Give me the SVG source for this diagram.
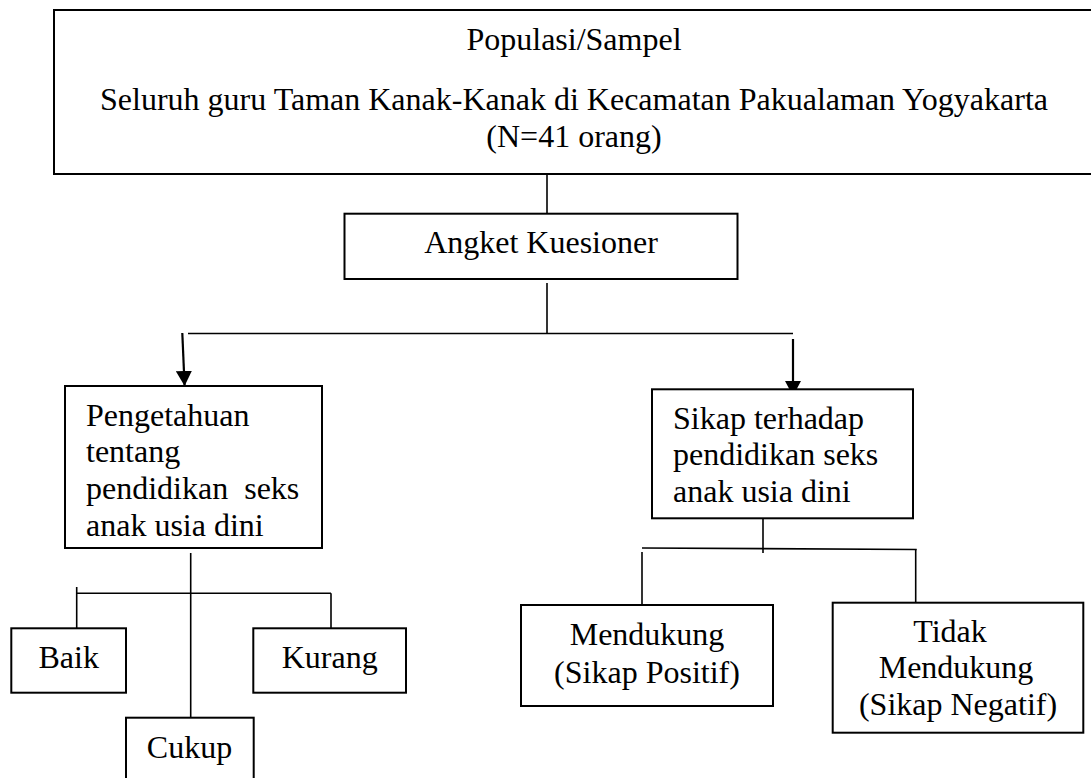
<svg xmlns="http://www.w3.org/2000/svg" width="1091" height="778" viewBox="0 0 1091 778">
<style>
.box{fill:#fff;stroke:#000;stroke-width:2}
.ln{fill:none;stroke:#000;stroke-width:1.6}
.ar{fill:none;stroke:#000;stroke-width:2.2}
.t{font-family:"Liberation Serif","Times New Roman",serif;font-size:32px;fill:#000}
.c{text-anchor:middle}
</style>
<defs>
<marker id="ah" markerUnits="userSpaceOnUse" markerWidth="16" markerHeight="16" viewBox="0 0 16 16" refX="15" refY="8" orient="auto">
<path d="M0,0 L15,8 L0,16 Z" fill="#000"/>
</marker>
</defs>
<rect width="1091" height="778" fill="#fff"/>
<g id="connectors">
<line class="ln" x1="547" y1="174" x2="547" y2="214"/>
<line class="ln" x1="547" y1="283" x2="547" y2="333.5"/>
<line class="ln" x1="188" y1="333.5" x2="793" y2="333.5"/>
<line class="ar" x1="182.3" y1="333" x2="184.6" y2="386" marker-end="url(#ah)"/>
<line class="ar" x1="793" y1="339" x2="793" y2="396" marker-end="url(#ah)"/>
<line class="ln" x1="190.7" y1="553" x2="190.7" y2="718"/>
<line class="ln" x1="76.7" y1="593.3" x2="331" y2="593.3"/>
<line class="ln" x1="76.7" y1="587" x2="76.7" y2="628.3"/>
<line class="ln" x1="331" y1="593.3" x2="331" y2="628.3"/>
<line class="ln" x1="763" y1="518.3" x2="763" y2="553"/>
<line class="ln" x1="642" y1="548" x2="916.7" y2="549.5"/>
<line class="ln" x1="642" y1="552" x2="642" y2="605"/>
<line class="ln" x1="915.7" y1="549.3" x2="915.7" y2="602.7"/>
</g>
<g id="populasi">
<rect class="box" x="54" y="10" width="1040" height="164"/>
<text class="t c" x="574" y="50">Populasi/Sampel</text>
<text class="t c" x="574" y="110">Seluruh guru Taman Kanak-Kanak di Kecamatan Pakualaman Yogyakarta</text>
<text class="t c" x="574" y="147">(N=41 orang)</text>
</g>
<g id="angket">
<rect class="box" x="344.5" y="213.7" width="393" height="65.3"/>
<text class="t c" x="541" y="253">Angket Kuesioner</text>
</g>
<g id="pengetahuan">
<rect class="box" x="65" y="386" width="257" height="162"/>
<text class="t" x="86" y="426">Pengetahuan</text>
<text class="t" x="86" y="462">tentang</text>
<text class="t" x="86" y="499" style="white-space:pre">pendidikan  seks</text>
<text class="t" x="86" y="536">anak usia dini</text>
</g>
<g id="sikap">
<rect class="box" x="652" y="389.3" width="261" height="129"/>
<text class="t" x="673" y="429">Sikap terhadap</text>
<text class="t" x="673" y="465">pendidikan seks</text>
<text class="t" x="673" y="502">anak usia dini</text>
</g>
<g id="baik">
<rect class="box" x="11.3" y="628.3" width="114.7" height="64.4"/>
<text class="t c" x="68.7" y="668">Baik</text>
</g>
<g id="kurang">
<rect class="box" x="253.3" y="628.3" width="152.7" height="64.4"/>
<text class="t c" x="329.7" y="668">Kurang</text>
</g>
<g id="cukup">
<rect class="box" x="126" y="717.7" width="127.7" height="80"/>
<text class="t c" x="189.5" y="757.5">Cukup</text>
</g>
<g id="mendukung">
<rect class="box" x="521" y="605" width="252" height="101"/>
<text class="t c" x="647" y="645">Mendukung</text>
<text class="t c" x="647" y="682.7">(Sikap Positif)</text>
</g>
<g id="tidak-mendukung">
<rect class="box" x="832.7" y="602.7" width="250.6" height="130"/>
<text class="t c" x="950" y="641.7">Tidak</text>
<text class="t c" x="956" y="678.3">Mendukung</text>
<text class="t c" x="958" y="715">(Sikap Negatif)</text>
</g>
</svg>
